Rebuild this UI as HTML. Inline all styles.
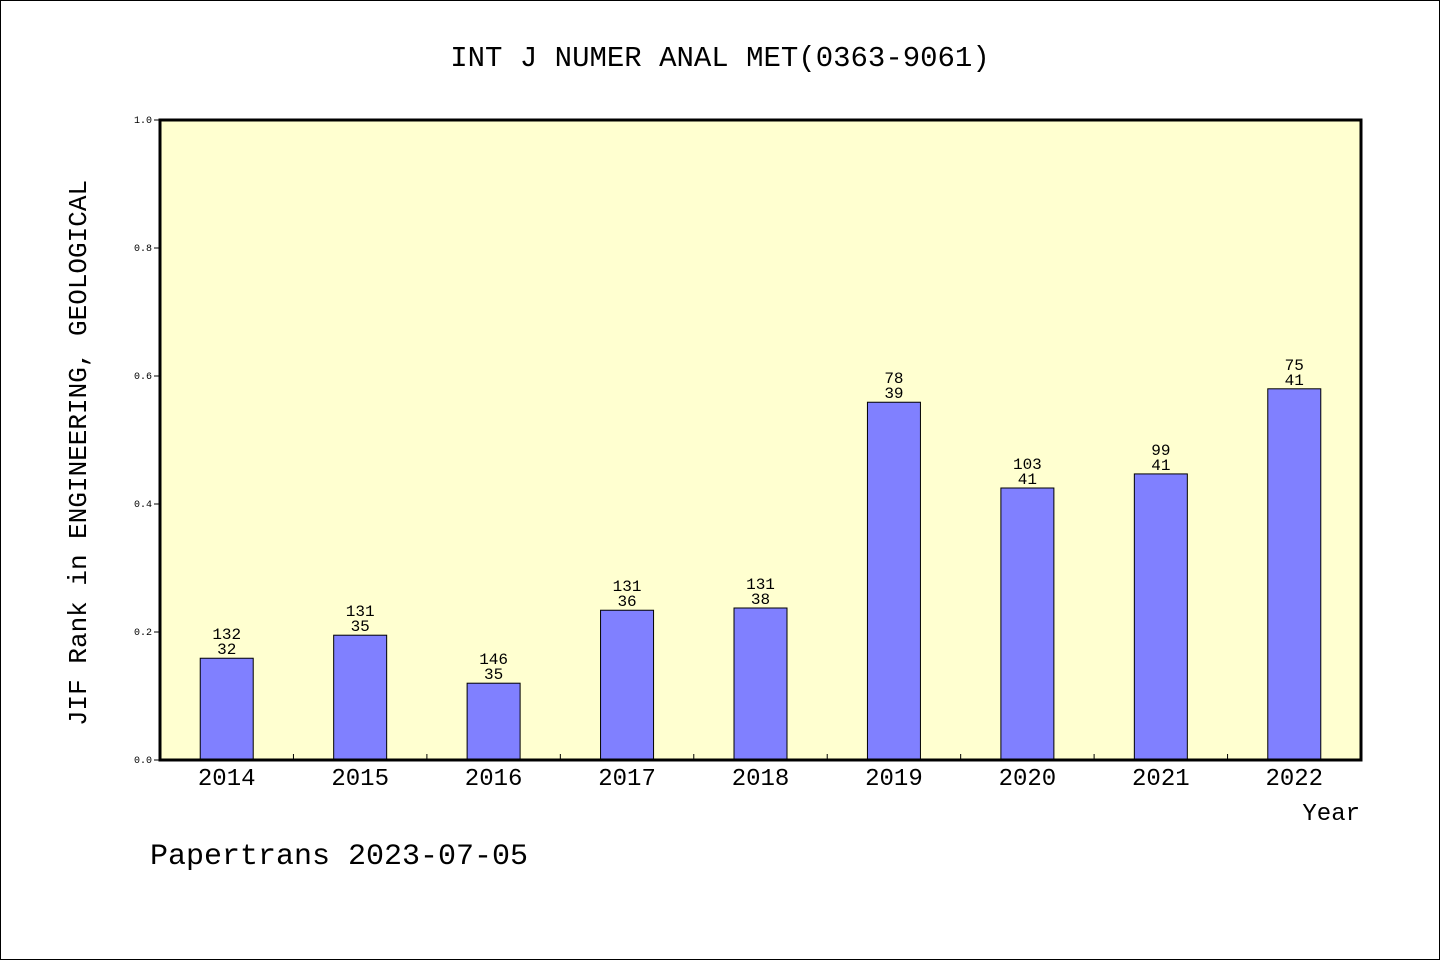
<!DOCTYPE html>
<html><head><meta charset="utf-8"><style>
body{margin:0;background:#fff}
svg text{font-family:"Liberation Mono","WenQuanYi Zen Hei",monospace;fill:#000}
</style></head><body>
<svg id="c" width="1440" height="960" xmlns="http://www.w3.org/2000/svg">
<rect x="0.5" y="0.5" width="1439" height="959" fill="#fff" stroke="#000"/>
<text x="720" y="66" font-size="29" text-anchor="middle">INT J NUMER ANAL MET(0363-9061)</text>
<rect x="160" y="120" width="1201" height="640" fill="#ffffd0"/>
<g id="marks"></g>
<rect x="160" y="120" width="1201" height="640" fill="none" stroke="#000" stroke-width="3"/>
<text transform="translate(86,453) rotate(-90)" font-size="26" text-anchor="middle">JIF Rank in ENGINEERING, GEOLOGICAL</text>
<text x="1360" y="820" font-size="24" text-anchor="end">Year</text>
<text x="150" y="864" font-size="30">Papertrans 2023-07-05</text>
</svg>
<script>
const years=["2014","2015","2016","2017","2018","2019","2020","2021","2022"];
const values=[0.159,0.195,0.120,0.234,0.2375,0.559,0.425,0.447,0.580];
const totals=["132","131","146","131","131","78","103","99","75"];
const ranks=["32","35","35","36","38","39","41","41","41"];
const yTicks=[0,0.2,0.4,0.6,0.8,1.0];
const yTickLabels=["0.0","0.2","0.4","0.6","0.8","1.0"];
const NS="http://www.w3.org/2000/svg";
const L=160,R=1361,T=120,B=760;
const band=(R-L)/years.length;
const x=i=>L+band*(i+0.5);
const y=v=>B-(B-T)*v;
const g=document.getElementById('marks');
function mk(tag,a,txt){const e=document.createElementNS(NS,tag);for(const k in a)e.setAttribute(k,a[k]);if(txt!=null)e.textContent=txt;g.appendChild(e);return e;}
yTicks.forEach((t,i)=>{
  const l=mk('line',{x1:L-6,x2:L,y1:y(t),y2:y(t),stroke:'#000'});
  
  
  const tx=mk('text',{x:L-8,y:y(t)+3,'font-size':10,'text-anchor':'end'},yTickLabels[i]);
  
  
});
for(let i=1;i<years.length;i++){
  const l=mk('line',{x1:L+band*i,x2:L+band*i,y1:B-6,y2:B,stroke:'#000'});
  
  
}
const bw=53;
years.forEach((yr,i)=>{
  const r=mk('rect',{x:x(i)-bw/2,y:y(values[i]),width:bw,height:B-y(values[i]),fill:'#8080ff',stroke:'#000','stroke-width':1});
  
  
  const t1=mk('text',{x:x(i),y:y(values[i])-19,'font-size':16,'text-anchor':'middle'},totals[i]);
  
  
  const t2=mk('text',{x:x(i),y:y(values[i])-4,'font-size':16,'text-anchor':'middle'},ranks[i]);
  
  
  const xl=mk('text',{x:x(i),y:785,'font-size':24,'text-anchor':'middle'},yr);
  
  
});
</script>
</body></html>
